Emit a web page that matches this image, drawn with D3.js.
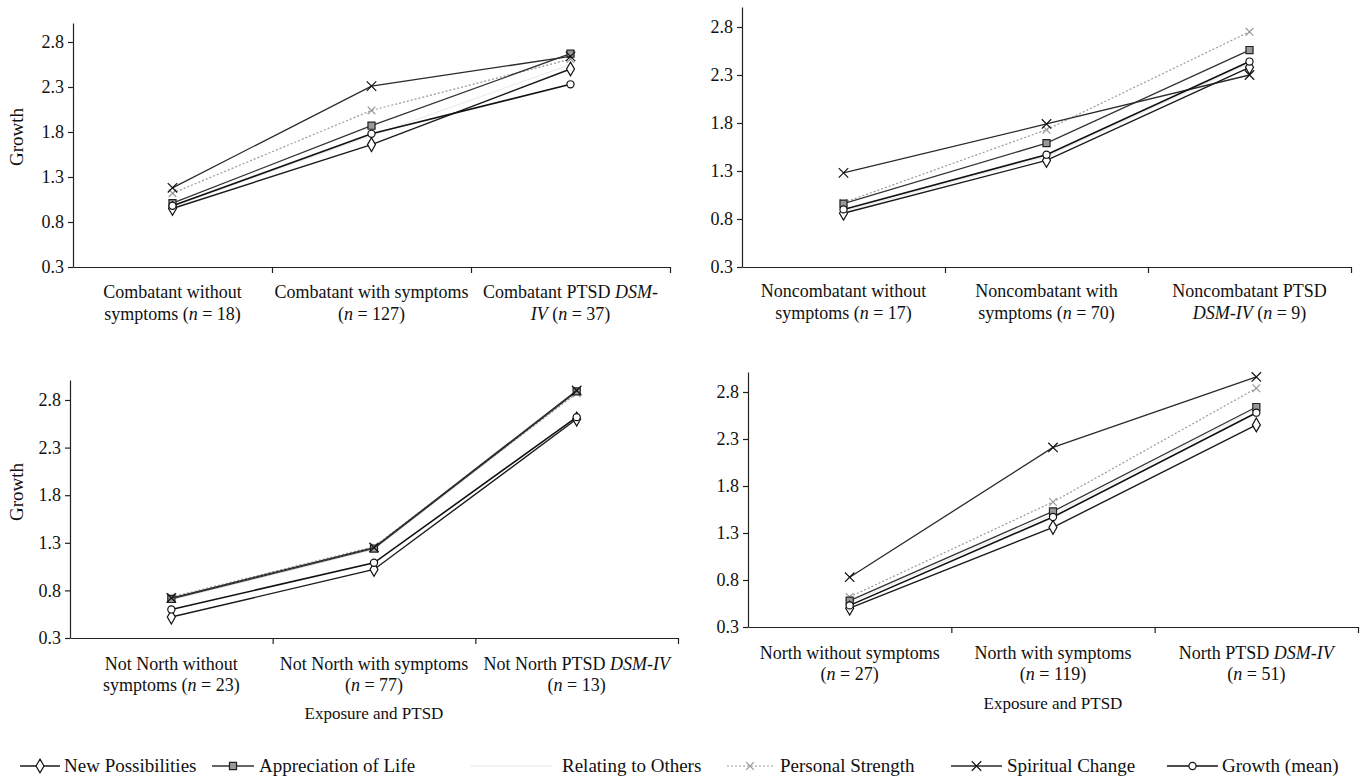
<!DOCTYPE html>
<html lang="en">
<head>
<meta charset="UTF-8"/>
<title>Growth by exposure and PTSD</title>
<script src="https://d3js.org/d3.v7.min.js"></script>
<style>
    body, html {
        margin: 0;
        padding: 0;
        background: #fff;
    }
    svg {
        display: block;
        font-family: "Liberation Serif", "Times New Roman", serif;
    }
    .axis path, .axis line {
        stroke: #222;
        stroke-width: 1.2;
    }
    .axis text {
        font-family: "Liberation Serif", serif;
        font-size: 18px;
        fill: #111;
    }
    .cat {
        font-size: 18px;
        fill: #111;
    }
    .legend text {
        font-size: 19px;
        fill: #111;
    }
</style>
</head>
<body>
<svg id="chart" width="1368" height="784"></svg>
<script>
    const seriesNames = ["New Possibilities", "Appreciation of Life", "Relating to Others",
        "Personal Strength", "Spiritual Change", "Growth (mean)"];
    const yTicks = [0.3, 0.8, 1.3, 1.8, 2.3, 2.8];

    // category labels, one entry per group, two lines each (*...* = italic)
    const combatantLabels = [["Combatant without", "symptoms (*n* = 18)"],
        ["Combatant with symptoms", "(*n* = 127)"],
        ["Combatant PTSD *DSM-*", "*IV* (*n* = 37)"]];
    const noncombatantLabels = [["Noncombatant without", "symptoms (*n* = 17)"],
        ["Noncombatant with", "symptoms (*n* = 70)"],
        ["Noncombatant PTSD", "*DSM-IV* (*n* = 9)"]];
    const notNorthLabels = [["Not North without", "symptoms (*n* = 23)"],
        ["Not North with symptoms", "(*n* = 77)"],
        ["Not North PTSD *DSM-IV*", "(*n* = 13)"]];
    const northLabels = [["North without symptoms", "(*n* = 27)"],
        ["North with symptoms", "(*n* = 119)"],
        ["North PTSD *DSM-IV*", "(*n* = 51)"]];

    // one row per series (same order as seriesNames), one value per group
    const combatantValues = [
        [0.95, 1.66, 2.50],
        [1.01, 1.87, 2.67],
        [0.97, 1.76, 2.55],
        [1.12, 2.04, 2.61],
        [1.18, 2.31, 2.64],
        [0.98, 1.78, 2.33]
    ];
    const noncombatantValues = [
        [0.86, 1.41, 2.38],
        [0.96, 1.59, 2.56],
        [0.88, 1.45, 2.42],
        [0.97, 1.73, 2.75],
        [1.28, 1.79, 2.30],
        [0.90, 1.47, 2.44]
    ];
    const notNorthValues = [
        [0.52, 1.02, 2.60],
        [0.71, 1.24, 2.89],
        [0.70, 1.23, 2.87],
        [0.73, 1.26, 2.87],
        [0.72, 1.25, 2.90],
        [0.60, 1.09, 2.62]
    ];
    const northValues = [
        [0.50, 1.36, 2.45],
        [0.58, 1.53, 2.64],
        [0.56, 1.50, 2.62],
        [0.62, 1.63, 2.84],
        [0.83, 2.21, 2.96],
        [0.53, 1.47, 2.58]
    ];

    const styles = [
        {stroke: "#1a1a1a", width: 1.4, dash: null, symbol: d3.symbolDiamond, size: 55, fill: "#fff", mstroke: "#111"},
        {stroke: "#333", width: 1.3, dash: null, symbol: d3.symbolSquare, size: 50, fill: "#999", mstroke: "#222"},
        {stroke: "#e8e8e8", width: 1, dash: null, symbol: null},
        {stroke: "#9a9a9a", width: 1.2, dash: "2,2", symbol: d3.symbolX, size: 40, fill: "none", mstroke: "#999"},
        {stroke: "#2a2a2a", width: 1.3, dash: null, symbol: d3.symbolX, size: 60, fill: "none", mstroke: "#111"},
        {stroke: "#111", width: 1.6, dash: null, symbol: d3.symbolCircle, size: 40, fill: "#fff", mstroke: "#111"}
    ];
    const drawOrder = [2, 3, 1, 4, 0, 5];

    const panels = [
        {values: combatantValues, labels: combatantLabels, left: 73, right: 670, y03: 267, y28: 42, top: 23,
            labelY: [298, 320], yTitle: [17, 137]},
        {values: noncombatantValues, labels: noncombatantLabels, left: 742, right: 1351, y03: 267, y28: 27, top: 7,
            labelY: [297, 319]},
        {values: notNorthValues, labels: notNorthLabels, left: 70, right: 678, y03: 638, y28: 400, top: 380,
            labelY: [670, 691], yTitle: [17, 492], xTitle: 719},
        {values: northValues, labels: northLabels, left: 748, right: 1358, y03: 627, y28: 392, top: 372,
            labelY: [659, 680], xTitle: 709}
    ];

    const svg = d3.select("#chart");

    function richText(sel, str) {
        str.split("*").forEach((seg, i) => {
            if (seg) sel.append("tspan").attr("font-style", i % 2 ? "italic" : "normal").text(seg);
        });
    }

    function drawMarker(g, st, x, y) {
        if (!st.symbol) return;
        g.append("path")
            .attr("d", d3.symbol(st.symbol, st.size)())
            .attr("transform", `translate(${x},${y})`)
            .attr("fill", st.fill)
            .attr("stroke", st.mstroke)
            .attr("stroke-width", 1.2);
    }

    panels.forEach(p => {
        const g = svg.append("g");

        const y0 = d3.scaleLinear().domain([0.3, 2.8]).range([p.y03, p.y28]);
        const y = d3.scaleLinear().domain([0.3, y0.invert(p.top)]).range([p.y03, p.top]);
        const xb = d3.scaleBand().domain([0, 1, 2]).range([p.left, p.right]);
        const xt = d3.scaleLinear().domain([0, 3]).range([p.left, p.right]);

        g.append("g").attr("class", "axis")
            .attr("transform", `translate(0,${p.y03})`)
            .call(d3.axisBottom(xt).tickValues([1, 2, 3]).tickFormat("").tickSize(6).tickSizeOuter(0));

        g.append("g").attr("class", "axis")
            .attr("transform", `translate(${p.left},0)`)
            .call(d3.axisLeft(y).tickValues(yTicks).tickFormat(d3.format(".1f")).tickSize(5).tickPadding(4).tickSizeOuter(0));

        p.labels.forEach((lines, i) => {
            lines.forEach((ln, j) => {
                const t = g.append("text").attr("class", "cat")
                    .attr("x", xb(i) + xb.bandwidth() / 2)
                    .attr("y", p.labelY[j])
                    .attr("text-anchor", "middle");
                richText(t, ln);
            });
        });

        if (p.yTitle) {
            g.append("text").attr("class", "cat")
                .attr("transform", `translate(${p.yTitle[0] + 6},${p.yTitle[1]}) rotate(-90)`)
                .attr("text-anchor", "middle")
                .style("font-size", "19px")
                .text("Growth");
        }
        if (p.xTitle) {
            g.append("text").attr("class", "cat")
                .attr("x", xb(1) + xb.bandwidth() / 2)
                .attr("y", p.xTitle)
                .attr("text-anchor", "middle")
                .style("font-size", "17px")
                .text("Exposure and PTSD");
        }

        const line = d3.line()
            .x((d, i) => xb(i) + xb.bandwidth() / 2)
            .y(d => y(d));

        drawOrder.forEach(s => {
            const st = styles[s];
            g.append("path")
                .datum(p.values[s])
                .attr("fill", "none")
                .attr("stroke", st.stroke)
                .attr("stroke-width", st.width)
                .attr("stroke-dasharray", st.dash)
                .attr("d", line);
            p.values[s].forEach((v, i) => drawMarker(g, st, xb(i) + xb.bandwidth() / 2, y(v)));
        });
    });

    // legend: line start, line end, text start
    const legendPos = [[20, 60, 64], [212, 254, 259], [470, 552, 562], [727, 773, 780], [951, 1002, 1007], [1167, 1218, 1222]];
    const legendY = 766;
    const lg = svg.append("g").attr("class", "legend");
    seriesNames.forEach((name, i) => {
        const st = styles[i];
        const [a, b, tx] = legendPos[i];
        lg.append("line")
            .attr("x1", a).attr("x2", b).attr("y1", legendY).attr("y2", legendY)
            .attr("stroke", st.stroke).attr("stroke-width", st.width)
            .attr("stroke-dasharray", st.dash);
        drawMarker(lg, st, (a + b) / 2, legendY);
        lg.append("text").attr("x", tx).attr("y", legendY + 6).text(name);
    });
</script>
</body>
</html>
